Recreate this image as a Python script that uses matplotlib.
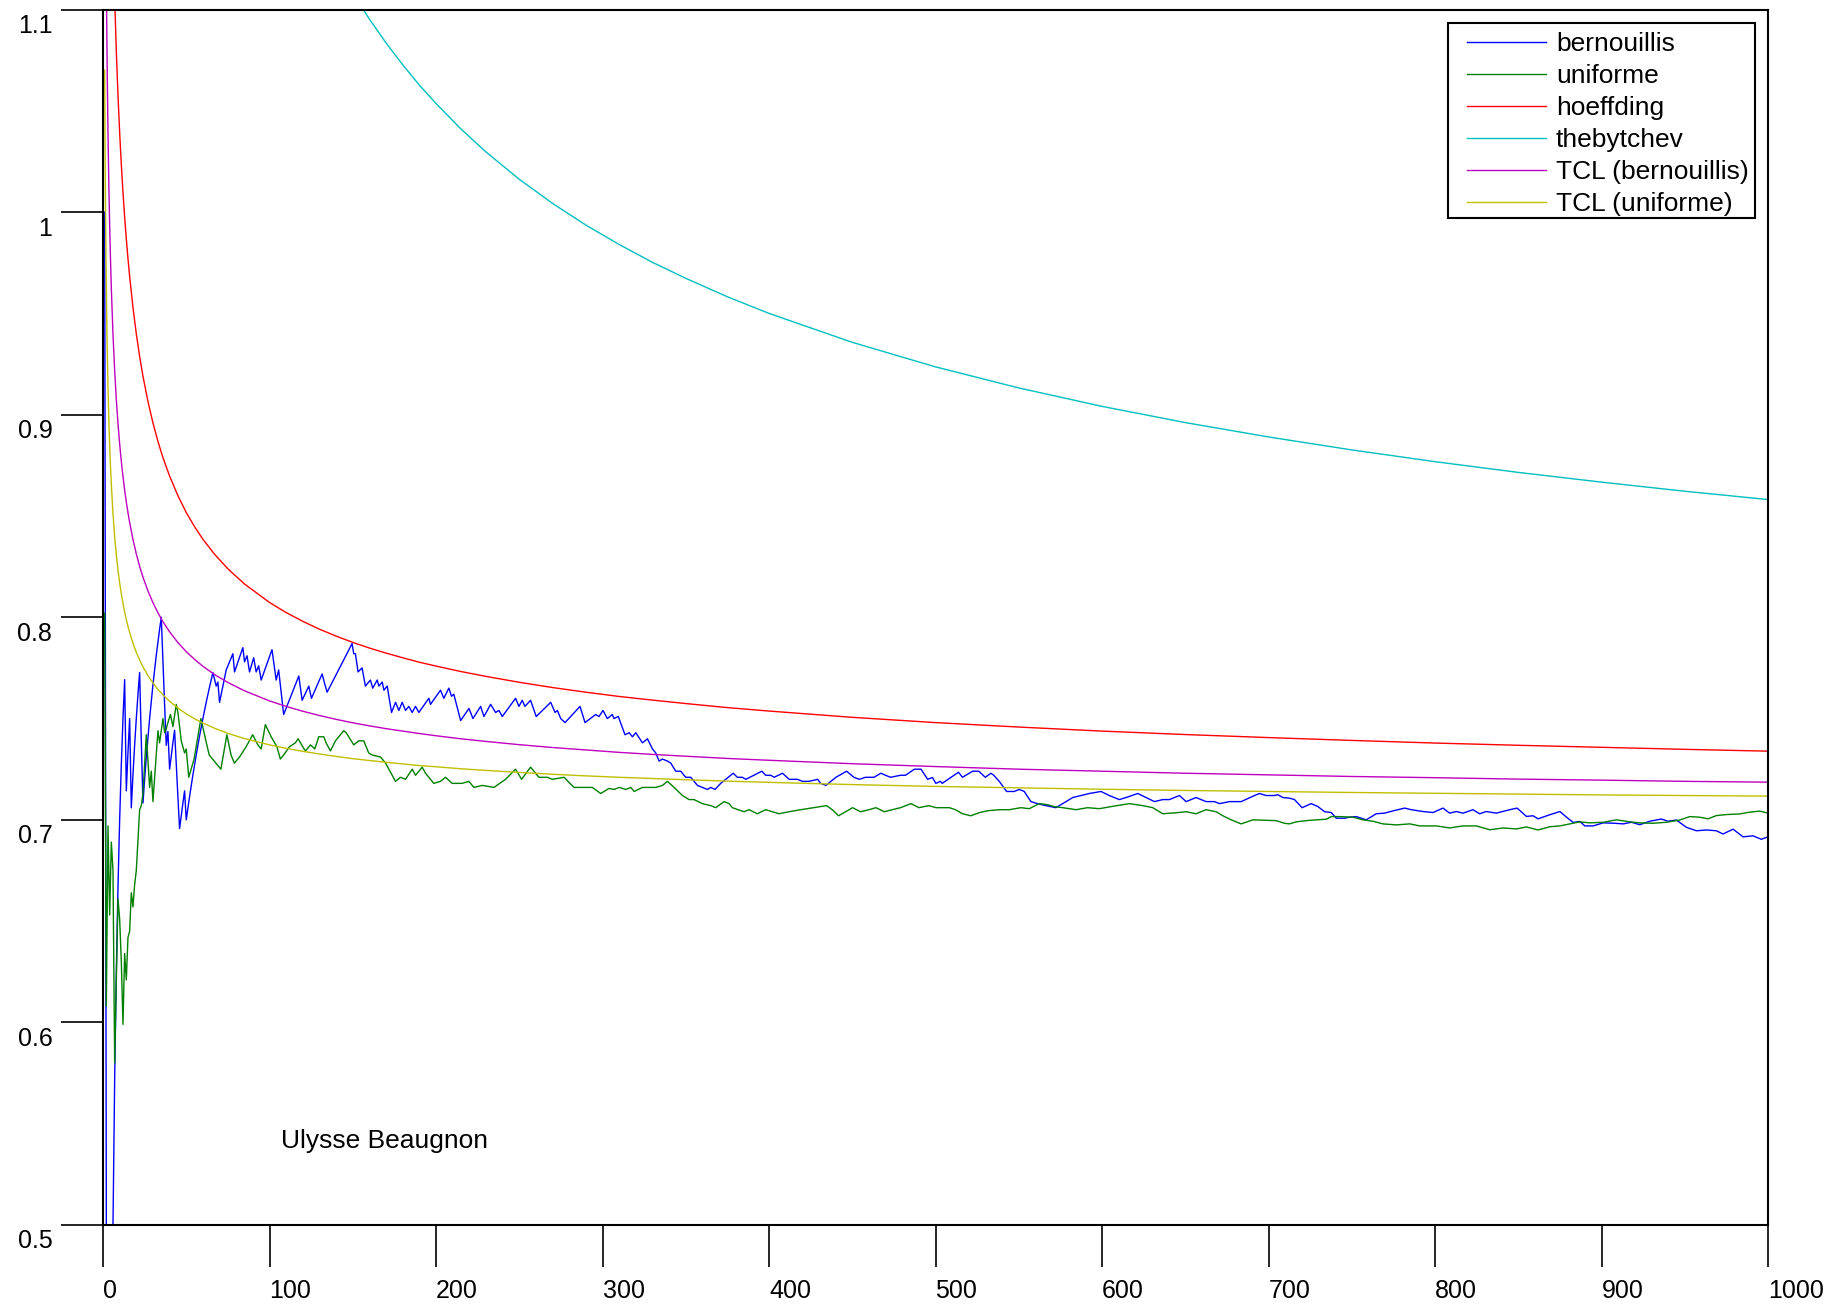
import matplotlib
matplotlib.use("Agg")
import matplotlib.pyplot as plt
import matplotlib.transforms as mtransforms
from matplotlib.patches import Rectangle

plt.rcParams['font.family'] = ['Liberation Sans', 'DejaVu Sans']

# running mean of the bernoulli draws
bern_n = [1, 2, 3, 4, 5, 6, 7, 8, 9, 10, 11, 12, 13, 14, 15, 16, 17, 18, 19, 20,
          21, 22, 23, 24, 25, 26, 27, 28, 29, 30, 31, 32, 33, 34, 35, 36, 37, 38, 39, 40,
          41, 42, 43, 44, 45, 46, 47, 48, 49, 50, 51, 52, 53, 54, 55, 56, 57, 58, 59, 60,
          61, 62, 63, 64, 65, 66, 68, 69, 70, 74, 78, 79, 84, 85, 86.5, 88, 90.5, 92, 93.5, 95,
          101.5, 104, 105.5, 108.5, 117.6, 119.6, 123.6, 125.2, 131.6, 133.2, 134.6, 149.6, 150.6, 151.6, 153.2, 155.6,
          157.6, 160.6, 162, 164.7, 165.7, 167.7, 168.7, 170.7, 173.3, 175.7, 177.7, 179.7, 181.7, 183.7, 185.7, 187.7,
          189.7, 195.7, 196.7, 202.7, 204.7, 207.7, 209.3, 210.7, 214.8, 219.8, 222.2, 226.8, 228.8, 232.8, 235.8, 237.8,
          239.8, 247.8, 249.8, 251.8, 253.4, 256.8, 260.2, 268.9, 271.5, 272.9, 274.9, 277.5, 286.5, 289.5, 295.9, 297.9,
          300.3, 302.9, 305.9, 306.9, 309.5, 313.5, 316, 318, 320, 324, 327, 330, 332, 334, 336, 339,
          341, 344, 347, 350, 353, 356, 357, 360, 363, 365, 367.6, 371, 378.5, 381, 384, 386.1,
          388.5, 395.7, 398, 401, 403.1, 408.1, 412.1, 417, 420.2, 424, 429.2, 431, 434.2, 440.2, 446.6, 451,
          454.2, 458, 463, 467.2, 470, 473, 479, 482, 487.3, 491.3, 495.3, 498.2, 500.2, 503, 504, 513.8,
          516.2, 522.3, 526, 529.9, 533.3, 535, 538.3, 542.7, 547.3, 550.3, 553.3, 557.3, 561.3, 566.3, 572.3, 576.4,
          582.4, 587.4, 592.4, 599.4, 604.4, 610.4, 614.4, 621.5, 626.5, 631.5, 636.5, 640.5, 646.5, 650.5, 656.5, 662.5,
          667.5, 670.6, 676.6, 683.6, 691.6, 694.6, 698.6, 703.6, 705.6, 708.6, 712.6, 715.6, 720.2, 725.6, 729.6, 733.7,
          737.7, 740.7, 745.7, 748.7, 752.7, 758.7, 764.7, 769.7, 775.7, 781.8, 785.8, 792.8, 798.8, 804.8, 808.8, 812.8,
          816.8, 822.8, 826.8, 830.8, 836.8, 844.9, 849.3, 854.9, 858.9, 861.9, 868.9, 875, 879, 883, 887, 890,
          895, 901, 908, 913, 918, 923, 929, 936, 940, 945, 951, 957, 963, 969, 973, 979,
          985, 991, 996, 1000]
bern_val = [1.0, 0.5, 0.3333, 0.25, 0.4, 0.5, 0.5714, 0.625, 0.6667, 0.7, 0.7273, 0.75, 0.7692, 0.7143, 0.7333, 0.75, 0.7059, 0.7222, 0.7368, 0.75,
            0.7619, 0.7727, 0.7391, 0.7083, 0.72, 0.7308, 0.7407, 0.75, 0.7586, 0.7667, 0.7742, 0.7813, 0.7879, 0.7941, 0.8, 0.7778, 0.7568, 0.7368, 0.7436, 0.725,
            0.7317, 0.7381, 0.7442, 0.7273, 0.7111, 0.6957, 0.7021, 0.7083, 0.7143, 0.7, 0.7059, 0.7115, 0.717, 0.7222, 0.7273, 0.7321, 0.7368, 0.7414, 0.7458, 0.75,
            0.7541, 0.7581, 0.7619, 0.7656, 0.7692, 0.7727, 0.766, 0.768, 0.758, 0.774, 0.782, 0.773, 0.785, 0.778, 0.781, 0.773, 0.780, 0.773, 0.776, 0.769,
            0.784, 0.769, 0.774, 0.752, 0.771, 0.759, 0.766, 0.760, 0.772, 0.767, 0.763, 0.787, 0.782, 0.782, 0.773, 0.775,
            0.766, 0.769, 0.765, 0.769, 0.766, 0.768, 0.764, 0.766, 0.753, 0.758, 0.754, 0.758, 0.754, 0.756, 0.753, 0.756,
            0.753, 0.760, 0.757, 0.764, 0.760, 0.765, 0.761, 0.762, 0.749, 0.755, 0.750, 0.756, 0.751, 0.757, 0.753, 0.754,
            0.751, 0.760, 0.756, 0.759, 0.756, 0.759, 0.751, 0.758, 0.753, 0.754, 0.750, 0.748, 0.756, 0.748, 0.752, 0.751,
            0.754, 0.750, 0.752, 0.750, 0.751, 0.742, 0.743, 0.741, 0.743, 0.738, 0.740, 0.735, 0.733, 0.729, 0.730, 0.729,
            0.728, 0.724, 0.724, 0.721, 0.721, 0.718, 0.717, 0.716, 0.715, 0.716, 0.715, 0.718, 0.723, 0.721, 0.721, 0.720,
            0.721, 0.724, 0.722, 0.722, 0.721, 0.723, 0.720, 0.720, 0.719, 0.719, 0.720, 0.718, 0.717, 0.721, 0.724, 0.721,
            0.720, 0.721, 0.721, 0.723, 0.722, 0.721, 0.722, 0.722, 0.725, 0.725, 0.720, 0.7209, 0.718, 0.719, 0.718, 0.7235,
            0.721, 0.724, 0.724, 0.721, 0.723, 0.722, 0.719, 0.714, 0.714, 0.715, 0.714, 0.709, 0.708, 0.707, 0.706, 0.708,
            0.711, 0.712, 0.713, 0.714, 0.712, 0.710, 0.711, 0.713, 0.711, 0.709, 0.710, 0.710, 0.712, 0.709, 0.711, 0.709,
            0.709, 0.708, 0.709, 0.709, 0.712, 0.713, 0.712, 0.712, 0.7124, 0.711, 0.7107, 0.710, 0.706, 0.708, 0.7066, 0.704,
            0.7036, 0.7008, 0.7008, 0.7013, 0.7016, 0.700, 0.703, 0.7033, 0.7046, 0.7058, 0.705, 0.7041, 0.7036, 0.7058, 0.7033, 0.7041,
            0.7033, 0.705, 0.703, 0.7041, 0.7033, 0.705, 0.7058, 0.7017, 0.702, 0.7005, 0.7025, 0.7041, 0.7013, 0.6987, 0.6992, 0.697,
            0.697, 0.6985, 0.6983, 0.698, 0.6988, 0.6976, 0.6993, 0.7004, 0.6993, 0.6999, 0.6963, 0.6946, 0.695, 0.6946, 0.693, 0.6954,
            0.6916, 0.6921, 0.6904, 0.6916]

# running mean of the uniform draws
unif_n = [1, 2, 3, 4, 5, 6, 7, 8, 9, 10, 11, 12, 13, 14, 15, 16, 17, 18, 19, 20,
          21, 22, 23, 24, 26, 28, 29, 30, 33, 34, 36, 37, 38, 39, 40.5, 42, 44, 45, 47, 49,
          50, 51.5, 54.7, 58.8, 61.8, 63.8, 66.8, 70.8, 74.4, 76.9, 78.9, 82, 85.9, 89.9, 93, 95,
          97.5, 101, 104.5, 106.5, 108.5, 111.9, 115.5, 117.2, 118.6, 120, 121.6, 124.6, 127.2, 129.6, 132.6, 134,
          136.6, 139.6, 144.6, 146, 147.6, 150.6, 153.6, 156.6, 159.6, 161.6, 166.7, 169.7, 175.7, 178.7, 181.7, 185.7,
          187.7, 191.7, 193.7, 198.7, 202.7, 205.7, 209.7, 215.7, 219.7, 222.8, 227.8, 234.8, 241.8, 247.8, 251.4, 256.8,
          261.8, 266.9, 269.9, 276.9, 282.9, 287.9, 293.9, 298.9, 303.9, 307, 310, 314, 317, 319, 324, 329,
          332, 336, 339, 343, 348, 352, 355, 360, 365, 368, 373, 376, 378, 385, 388, 393,
          398, 406, 412, 419, 427, 434.6, 438, 441.8, 446, 450.2, 455, 460, 464.2, 469.3, 474, 479,
          485.3, 490, 496, 500.3, 504, 508.3, 512, 516.2, 521.2, 526.2, 531.3, 538.3, 544.3, 551.3, 556.3, 562.3,
          567.3, 571.4, 576.4, 584.4, 591.4, 598.4, 607.4, 616.4, 624.5, 630.5, 636.5, 644.5, 650.5, 656.5, 662.5, 668.5,
          672.6, 677.6, 683.6, 690.6, 698.6, 704.6, 709.6, 712.6, 716.6, 722.6, 728.7, 734.7, 737.7, 742.7, 750.7, 756.7,
          762.7, 768.7, 776.8, 784.8, 790.8, 800.8, 808.8, 816.8, 824.8, 832.9, 840.9, 848.9, 854.9, 861.9, 869, 875,
          881, 887, 893, 901, 909, 917, 923, 931, 939, 947, 953, 959, 964, 969, 975, 983,
          989, 995, 1000]
unif_val = [0.802, 0.608, 0.697, 0.653, 0.689, 0.675, 0.58, 0.62, 0.661, 0.651, 0.63, 0.599, 0.634, 0.621, 0.642, 0.645, 0.664, 0.657, 0.668, 0.675,
            0.69, 0.705, 0.707, 0.713, 0.742, 0.716, 0.724, 0.709, 0.744, 0.738, 0.750, 0.743, 0.745, 0.748, 0.752, 0.746, 0.757, 0.753, 0.739, 0.733,
            0.735, 0.721, 0.730, 0.750, 0.739, 0.732, 0.729, 0.725, 0.742, 0.732, 0.728, 0.731, 0.736, 0.742, 0.737, 0.735,
            0.747, 0.741, 0.736, 0.730, 0.732, 0.736, 0.738, 0.740, 0.738, 0.736, 0.734, 0.737, 0.735, 0.741, 0.741, 0.738,
            0.734, 0.739, 0.744, 0.743, 0.741, 0.737, 0.739, 0.739, 0.733, 0.732, 0.731, 0.728, 0.719, 0.721, 0.720, 0.725,
            0.722, 0.726, 0.723, 0.718, 0.719, 0.721, 0.718, 0.718, 0.719, 0.716, 0.717, 0.716, 0.720, 0.725, 0.720, 0.726,
            0.721, 0.721, 0.720, 0.721, 0.716, 0.716, 0.716, 0.713, 0.7155, 0.715, 0.716, 0.715, 0.716, 0.714, 0.716, 0.716,
            0.716, 0.717, 0.719, 0.716, 0.712, 0.710, 0.710, 0.708, 0.707, 0.706, 0.709, 0.708, 0.706, 0.704, 0.705, 0.703,
            0.705, 0.703, 0.704, 0.705, 0.706, 0.707, 0.705, 0.702, 0.704, 0.706, 0.704, 0.705, 0.706, 0.704, 0.705, 0.706,
            0.708, 0.706, 0.707, 0.706, 0.706, 0.706, 0.705, 0.703, 0.702, 0.7035, 0.7045, 0.705, 0.705, 0.706, 0.7055, 0.708,
            0.7075, 0.7065, 0.706, 0.705, 0.706, 0.7055, 0.7068, 0.708, 0.707, 0.706, 0.703, 0.7035, 0.704, 0.703, 0.705, 0.704,
            0.702, 0.700, 0.698, 0.700, 0.6998, 0.6996, 0.6983, 0.698, 0.699, 0.6996, 0.700, 0.7003, 0.7016, 0.7016, 0.7013, 0.700,
            0.6993, 0.698, 0.6975, 0.698, 0.697, 0.697, 0.696, 0.697, 0.697, 0.6951, 0.696, 0.6955, 0.6965, 0.695, 0.6966, 0.697,
            0.698, 0.699, 0.6985, 0.6988, 0.700, 0.699, 0.6985, 0.6983, 0.6988, 0.6999, 0.7016, 0.7013, 0.7005, 0.7021, 0.7026, 0.7029,
            0.7038, 0.7043, 0.7033]

# upper bounds of the confidence intervals
bound_n = [1, 1.25, 1.5, 1.75, 2, 2.5, 3, 3.5, 4, 4.5, 5, 6, 7, 8, 9, 10, 11, 12, 13, 14,
           15, 16, 18, 20, 22, 24, 27, 30, 33, 36, 40, 45, 50, 55, 60, 67, 75, 85, 100, 110,
           120, 130, 140, 150, 160, 170, 180, 190, 200, 215, 230, 250, 270, 290, 310, 330, 350, 375, 400, 450,
           500, 550, 600, 650, 700, 750, 800, 850, 900, 950, 1000]
hoeffding = [1.773, 1.6597, 1.5761, 1.5111, 1.4587, 1.3786, 1.3195, 1.2735, 1.2365, 1.2058, 1.1799, 1.1381, 1.1056, 1.0794, 1.0577, 1.0393, 1.0235, 1.0097, 0.9976, 0.9868,
             0.9770, 0.9683, 0.9529, 0.9399, 0.9288, 0.9190, 0.9065, 0.8959, 0.8868, 0.8788, 0.8697, 0.8600, 0.8517, 0.8447, 0.8385, 0.8311, 0.8239, 0.8164, 0.8073, 0.8023,
             0.7980, 0.7941, 0.7907, 0.7876, 0.7848, 0.7823, 0.7800, 0.7778, 0.7759, 0.7732, 0.7708, 0.7679, 0.7653, 0.7630, 0.7609, 0.7591, 0.7574, 0.7554, 0.7537, 0.7506,
             0.7480, 0.7458, 0.7438, 0.7421, 0.7406, 0.7392, 0.7379, 0.7368, 0.7358, 0.7348, 0.7339]
thebytchev = [5.7, 5.1721, 4.7825, 4.4796, 4.2355, 3.8623, 3.5868, 3.3726, 3.2, 3.0570, 2.9361, 2.7412, 2.5898, 2.4678, 2.3667, 2.2811, 2.2076, 2.1434, 2.0868, 2.0363,
              1.9910, 1.95, 1.8785, 1.8180, 1.7660, 1.7206, 1.6623, 1.6129, 1.5704, 1.5333, 1.4906, 1.4454, 1.4071, 1.3742, 1.3455, 1.3108, 1.2774, 1.2423, 1.2, 1.1767,
              1.1564, 1.1385, 1.1226, 1.1082, 1.0953, 1.0835, 1.0727, 1.0627, 1.0536, 1.0410, 1.0297, 1.0162, 1.0043, 0.9936, 0.9840, 0.9752, 0.9673, 0.9582, 0.95, 0.9357,
              0.9236, 0.9132, 0.9041, 0.8961, 0.8890, 0.8826, 0.8768, 0.8715, 0.8667, 0.8622, 0.8581]
tcl_bern = [1.287, 1.2250, 1.1793, 1.1437, 1.1151, 1.0713, 1.0389, 1.0138, 0.9935, 0.9767, 0.9625, 0.9396, 0.9219, 0.9075, 0.8957, 0.8856, 0.8770, 0.8695, 0.8628, 0.8569,
            0.8516, 0.8468, 0.8384, 0.8313, 0.8251, 0.8198, 0.8130, 0.8072, 0.8022, 0.7978, 0.7928, 0.7875, 0.7830, 0.7792, 0.7758, 0.7717, 0.7678, 0.7637, 0.7587, 0.7560,
            0.7536, 0.7515, 0.7496, 0.7479, 0.7464, 0.7450, 0.7438, 0.7426, 0.7415, 0.7400, 0.7387, 0.7371, 0.7357, 0.7345, 0.7333, 0.7323, 0.7314, 0.7303, 0.7294, 0.7277,
            0.7263, 0.7250, 0.7240, 0.7230, 0.7222, 0.7214, 0.7208, 0.7201, 0.7196, 0.7190, 0.7186]
tcl_unif = [1.07, 1.0309, 1.0021, 0.9797, 0.9616, 0.9340, 0.9136, 0.8978, 0.885, 0.8744, 0.8655, 0.8511, 0.8398, 0.8308, 0.8233, 0.8170, 0.8116, 0.8068, 0.8026, 0.7989,
            0.7955, 0.7925, 0.7872, 0.7827, 0.7789, 0.7755, 0.7712, 0.7676, 0.7644, 0.7617, 0.7585, 0.7552, 0.7523, 0.7499, 0.7478, 0.7452, 0.7427, 0.7401, 0.7370, 0.7353,
            0.7338, 0.7325, 0.7313, 0.7302, 0.7293, 0.7284, 0.7276, 0.7268, 0.7262, 0.7252, 0.7244, 0.7234, 0.7225, 0.7217, 0.7210, 0.7204, 0.7198, 0.7191, 0.7185, 0.7174,
            0.7165, 0.7158, 0.7151, 0.7145, 0.7140, 0.7135, 0.7131, 0.7127, 0.7123, 0.7120, 0.7117]

x_ticks = [0, 100, 200, 300, 400, 500, 600, 700, 800, 900, 1000]
y_ticks = [0.5, 0.6, 0.7, 0.8, 0.9, 1.0, 1.1]
y_labels = ["0.5", "0.6", "0.7", "0.8", "0.9", "1", "1.1"]

fig = plt.figure(figsize=(18.42, 13.1), dpi=100)
ax = fig.add_axes([103 / 1842, 85 / 1310, 1665 / 1842, 1215.5 / 1310])

lw = 1.0
ax.plot(bern_n, bern_val, color="#0000ff", lw=lw, label="bernouillis")
ax.plot(unif_n, unif_val, color="#008000", lw=lw, label="uniforme")
ax.plot(bound_n, hoeffding, color="#ff0000", lw=lw, label="hoeffding")
ax.plot(bound_n, thebytchev, color="#00bfbf", lw=lw, label="thebytchev")
ax.plot(bound_n, tcl_bern, color="#bf00bf", lw=lw, label="TCL (bernouillis)")
ax.plot(bound_n, tcl_unif, color="#bfbf00", lw=lw, label="TCL (uniforme)")

ax.set_xlim(0, 1000)
ax.set_ylim(0.5, 1.1)
ax.set_xticks(x_ticks)
ax.set_xticklabels([str(v) for v in x_ticks])
ax.set_yticks(y_ticks)
ax.set_yticklabels(y_labels)
ax.tick_params(direction="out", length=30, width=1.2, labelsize=18, colors="black")
ax.tick_params(axis="x", pad=9)
ax.tick_params(axis="y", pad=6.5)
for lab in ax.get_xticklabels():
    lab.set_ha("left")
# y labels sit just below their tick
shift_down = mtransforms.ScaledTranslation(0, -4.5 / 100, fig.dpi_scale_trans)
for lab in ax.get_yticklabels():
    lab.set_va("top")
    lab.set_transform(lab.get_transform() + shift_down)
for sp in ax.spines.values():
    sp.set_linewidth(1.5)
    sp.set_color("black")

# legend entries without frame; the box is drawn separately (wider left margin)
leg = ax.legend(loc="upper right", bbox_to_anchor=(1 - 12 / 1665, 1 - 15.5 / 1215.5),
                fontsize=19, frameon=False,
                handlelength=3.0, handletextpad=0.36, labelspacing=0.3,
                borderpad=0.28, borderaxespad=0)
box = Rectangle((0.8081, 0.8281), 0.9922 - 0.8081, 0.9885 - 0.8281,
                transform=ax.transAxes, facecolor="white", edgecolor="black",
                linewidth=1.5, zorder=4)
ax.add_patch(box)
leg.set_zorder(5)

ax.text(107, 0.538, "Ulysse Beaugnon", fontsize=19, va="baseline")

fig.savefig("out.png", dpi=100)
